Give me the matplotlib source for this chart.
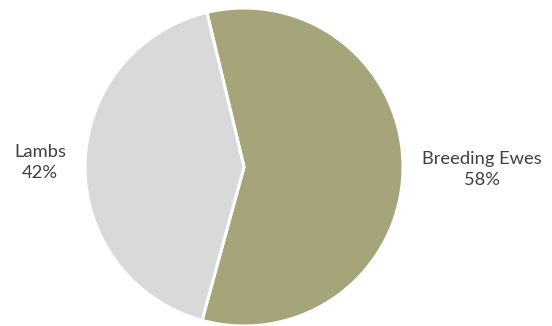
import matplotlib
matplotlib.use("Agg")
import matplotlib.pyplot as plt

categories = ["Breeding Ewes", "Lambs"]
shares = [58, 42]
colors = ["#A6A579", "#D9D9D9"]

W, H, DPI = 552, 326, 100
fig = plt.figure(figsize=(W / DPI, H / DPI), dpi=DPI)
fig.patch.set_facecolor("white")

cx, cy, r = 244, 167, 159
ax = fig.add_axes([(cx - r) / W, (H - cy - r) / H, 2 * r / W, 2 * r / H])
ax.set_aspect("equal")

ax.pie(shares, colors=colors, startangle=103.5, counterclock=False,
       wedgeprops=dict(edgecolor="white", linewidth=2.2), radius=1.0)
ax.set_xlim(-1, 1)
ax.set_ylim(-1, 1)
ax.axis("off")

font = dict(family=["Lato", "DejaVu Sans"], fontsize=13.2, color="#404040",
            ha="center", va="center", linespacing=1.4)
label_pos = {"Lambs": (-1.283, 0.03), "Breeding Ewes": (1.497, -0.015)}
for name, val in zip(categories, shares):
    x, y = label_pos[name]
    ax.text(x, y, f"{name}\n{val}%", clip_on=False, **font)

fig.savefig("out.png", dpi=DPI, facecolor="white")
